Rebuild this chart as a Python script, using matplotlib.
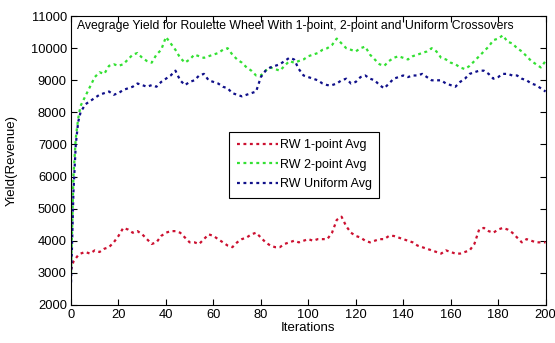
import matplotlib
matplotlib.use('Agg')
import matplotlib.pyplot as plt

plt.rcParams['font.family'] = ['Liberation Sans', 'DejaVu Sans']

iterations = [0, 1, 2, 3] + list(range(4, 201, 2))

rw_1point = [3100, 3350, 3450, 3550, 3600, 3650, 3600, 3700, 3650, 3750, 3800, 3950, 4150, 4400,
             4350, 4250, 4300, 4200, 4050, 3900, 3950, 4150, 4250, 4300, 4300, 4250, 4100, 3950,
             3950, 3900, 4050, 4200, 4150, 4050, 3950, 3850, 3800, 3950, 4050, 4100, 4200, 4250,
             4100, 3950, 3850, 3800, 3800, 3900, 3950, 4000, 3950, 4000, 4050, 4000, 4050, 4050,
             4050, 4250, 4650, 4750, 4450, 4250, 4150, 4100, 4000, 3950, 4000, 4050, 4050, 4150,
             4150, 4100, 4050, 4000, 3950, 3850, 3800, 3750, 3700, 3650, 3600, 3700, 3650, 3600,
             3600, 3650, 3700, 3900, 4350, 4400, 4300, 4250, 4350, 4400, 4350, 4250, 4100, 3950,
             4050, 4000, 3950, 3950, 3950]

rw_2point = [3000, 6000, 7200, 7800, 8200, 8500, 8800, 9100, 9250, 9200, 9450, 9500, 9450, 9500,
             9650, 9800, 9850, 9700, 9600, 9550, 9800, 9950, 10350, 10150, 9950, 9700, 9550, 9650,
             9800, 9750, 9700, 9750, 9800, 9850, 9950, 10000, 9800, 9650, 9550, 9400, 9300, 9150,
             9150, 9300, 9400, 9350, 9300, 9450, 9600, 9550, 9600, 9650, 9750, 9800, 9850, 9950,
             10000, 10100, 10300, 10150, 10000, 9950, 9900, 10000, 10050, 9800, 9650, 9500, 9450,
             9600, 9700, 9750, 9700, 9650, 9750, 9800, 9850, 9900, 10000, 9900, 9700, 9650, 9550,
             9500, 9400, 9350, 9450, 9600, 9750, 9900, 10050, 10250, 10300, 10400, 10200, 10150,
             10000, 9900, 9750, 9600, 9500, 9400, 9600]

rw_uniform = [2700, 5500, 7000, 7700, 8000, 8250, 8350, 8450, 8550, 8600, 8650, 8550, 8600, 8700,
              8750, 8800, 8900, 8850, 8800, 8850, 8800, 8950, 9050, 9150, 9300, 9000, 8850, 8950,
              9000, 9150, 9200, 9000, 8950, 8900, 8800, 8750, 8600, 8550, 8500, 8550, 8600, 8650,
              9100, 9300, 9400, 9450, 9500, 9600, 9700, 9650, 9350, 9150, 9100, 9050, 9000, 8900,
              8850, 8850, 8900, 9000, 9050, 8900, 8950, 9100, 9150, 9050, 9000, 8850, 8750, 8900,
              9050, 9100, 9150, 9100, 9150, 9150, 9200, 9100, 9000, 9000, 9000, 8900, 8850, 8800,
              8950, 9050, 9200, 9250, 9300, 9300, 9200, 9050, 9100, 9200, 9200, 9150, 9150, 9050,
              9000, 8900, 8850, 8750, 8650]

labels = ['RW 1-point Avg', 'RW 2-point Avg', 'RW Uniform Avg']
colors = ['#cc1030', '#33e033', '#10108a']
title = 'Avegrage Yield for Roulette Wheel With 1-point, 2-point and Uniform Crossovers'

fig = plt.figure(figsize=(5.55, 3.43), dpi=100)
ax = fig.add_axes([0.128, 0.111, 0.855, 0.842])

dots = (0, (1.3, 1.6))
for series, lab, col in zip([rw_1point, rw_2point, rw_uniform], labels, colors):
    ax.plot(iterations, series, linestyle=dots, linewidth=1.6, color=col, label=lab)

ax.set_xlim(0, 200)
ax.set_ylim(2000, 11000)
ax.set_xticks(range(0, 201, 20))
ax.set_yticks(range(2000, 11001, 1000))
ax.tick_params(direction='in', top=True, right=True, labelsize=9.3, length=4, pad=3)
ax.set_xlabel('Iterations', fontsize=9.5, labelpad=1)
ax.set_ylabel('Yield(Revenue)', fontsize=9.5, labelpad=9)
ax.text(0.012, 0.985, title, transform=ax.transAxes, ha='left', va='top', fontsize=8.8)

leg = ax.legend(loc='upper left', bbox_to_anchor=(0.333, 0.6), borderaxespad=0, fontsize=9,
                fancybox=False, edgecolor='black', framealpha=1, handlelength=3.3,
                handletextpad=0.15, borderpad=0.6, labelspacing=0.6)
leg.get_frame().set_linewidth(0.8)

fig.savefig('out.png', dpi=100)
